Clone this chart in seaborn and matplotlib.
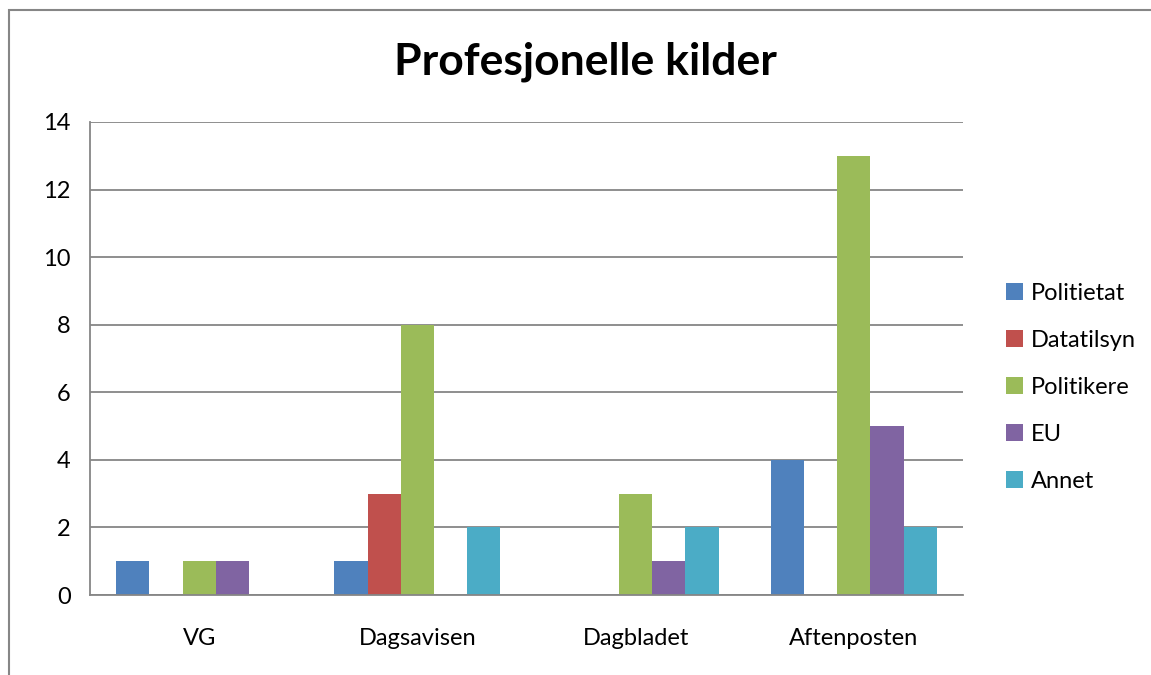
import seaborn as sns
import matplotlib.pyplot as plt
import pandas as pd
from matplotlib.patches import Rectangle

# data
aviser = ['VG', 'Dagsavisen', 'Dagbladet', 'Aftenposten']
kilder = ['Politietat', 'Datatilsyn', 'Politikere', 'EU', 'Annet']
politietat = [1, 1, 0, 4]
datatilsyn = [0, 3, 0, 0]
politikere = [1, 8, 3, 13]
eu = [1, 0, 1, 5]
annet = [0, 2, 2, 2]
farger = ['#4F81BD', '#C0504D', '#9BBB59', '#8064A2', '#4BACC6']

rows = []
for kilde, verdier in zip(kilder, [politietat, datatilsyn, politikere, eu, annet]):
    for avis, v in zip(aviser, verdier):
        rows.append({'avis': avis, 'kilde': kilde, 'antall': v})
df = pd.DataFrame(rows)

sns.set_style('white')
plt.rcParams['font.family'] = ['Lato', 'DejaVu Sans']
plt.rcParams['text.color'] = 'black'

fig = plt.figure(figsize=(11.51, 6.75), dpi=100)
ax = fig.add_axes([90 / 1151, 1 - 595 / 675, 873 / 1151, 473 / 675])

sns.barplot(data=df, x='avis', y='antall', hue='kilde', hue_order=kilder,
            order=aviser, palette=farger, width=0.76, saturation=1,
            linewidth=0, ax=ax)

ax.set_ylim(0, 14)
ax.set_yticks(range(0, 15, 2))
ax.set_xlim(-0.5, 3.5)
ax.yaxis.grid(True, color='#868686', linewidth=1.3)
ax.set_axisbelow(True)
for side in ['top', 'right']:
    ax.spines[side].set_visible(False)
for side in ['left', 'bottom']:
    ax.spines[side].set_color('#868686')
    ax.spines[side].set_linewidth(1.3)
ax.tick_params(axis='y', length=0, labelsize=17, labelcolor='black', pad=14)
ax.tick_params(axis='x', length=0, labelsize=17, labelcolor='black', pad=24)
ax.set_xlabel('')
ax.set_ylabel('')

leg = ax.legend(loc='center left', bbox_to_anchor=(1.025, 0.439), frameon=False,
                fontsize=17, handlelength=0.7, handleheight=0.7,
                handletextpad=0.35, labelspacing=1.1)

fig.text(585 / 1151, 1 - 62 / 675, 'Profesjonelle kilder', ha='center', va='center',
         fontsize=32, fontweight='bold', color='black')

fig.patches.append(Rectangle((9 / 1151, -0.1), 1.2, 1 - 10 / 675 + 0.1,
                             transform=fig.transFigure, fill=False,
                             edgecolor='#868686', linewidth=1.5))

fig.savefig('out.png', dpi=100)
